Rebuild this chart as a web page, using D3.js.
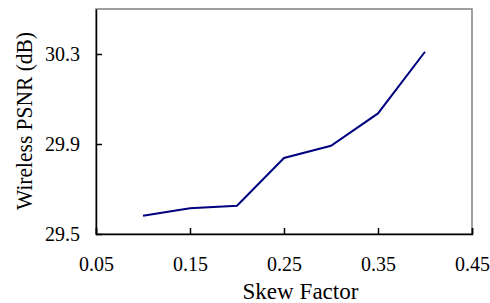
<!DOCTYPE html>
<html>
<head>
<meta charset="utf-8">
<script src="https://cdn.jsdelivr.net/npm/d3@7"></script>
<style>
  body { margin: 0; background: #fff; }
  svg text { font-family: 'Liberation Serif', 'Times New Roman', serif; fill: #000; }
</style>
</head>
<body>
<svg id="chart"></svg>
<script>
// chart data
let skew = [0.1, 0.15, 0.2, 0.25, 0.3, 0.35, 0.4]
let psnr = [29.581, 29.614, 29.626, 29.838, 29.892, 30.036, 30.31]
let xTicks = [0.05, 0.15, 0.25, 0.35, 0.45]
let yTicks = [29.5, 29.9, 30.3]

let width = 490
let height = 303
let margin = {top: 9, right: 18, bottom: 69, left: 96}
let serif = "'Liberation Serif', 'Times New Roman', serif"

let svg = d3.select('#chart')
            .attr('width', width)
            .attr('height', height)

let xScale = d3.scaleLinear()
               .domain([0.05, 0.45])
               .range([margin.left, width - margin.right])
let yScale = d3.scaleLinear()
               .domain([29.5, 30.5])
               .range([height - margin.bottom, margin.top])

// frame: grey top/right, black left/bottom
svg.append('rect')
   .attr('x', margin.left)
   .attr('y', margin.top)
   .attr('width', xScale.range()[1] - margin.left)
   .attr('height', yScale.range()[0] - margin.top)
   .attr('fill', 'none')
   .attr('stroke', '#808080')
   .attr('stroke-width', 1.5)

let xAxis = d3.axisBottom(xScale)
              .tickValues(xTicks)
              .tickFormat(d3.format('.2f'))
              .tickSize(-6)
              .tickPadding(23)
svg.append('g')
   .attr('transform', 'translate(0,' + yScale(29.5) + ')')
   .call(xAxis)
   .attr('font-family', null)
   .attr('font-size', null)
   .call(g => g.selectAll('text').style('font-size', '20px').style('font-family', serif))
   .call(g => g.selectAll('line, path').attr('stroke', '#000').attr('stroke-width', 1.5))

let yAxis = d3.axisLeft(yScale)
              .tickValues(yTicks)
              .tickFormat(d3.format('.1f'))
              .tickSize(-6)
              .tickSizeOuter(0)
              .tickPadding(16)
svg.append('g')
   .attr('transform', 'translate(' + margin.left + ',0)')
   .call(yAxis)
   .attr('font-family', null)
   .attr('font-size', null)
   .call(g => g.selectAll('text').style('font-size', '20px').style('font-family', serif))
   .call(g => g.selectAll('line, path').attr('stroke', '#000').attr('stroke-width', 1.5))

// the series
let line = d3.line()
             .x((d, i) => xScale(skew[i]))
             .y(d => yScale(d))
svg.append('path')
   .datum(psnr)
   .attr('d', line)
   .attr('fill', 'none')
   .attr('stroke', '#000080')
   .attr('stroke-width', 2)

// axis titles
svg.append('text')
   .attr('x', 300.5)
   .attr('y', 299)
   .attr('text-anchor', 'middle')
   .attr('textLength', 116)
   .attr('lengthAdjust', 'spacingAndGlyphs')
   .style('font-size', '23px')
   .text('Skew Factor')

svg.append('text')
   .attr('transform', 'translate(31.5,121) rotate(-90)')
   .attr('text-anchor', 'middle')
   .attr('textLength', 178)
   .attr('lengthAdjust', 'spacingAndGlyphs')
   .style('font-size', '24px')
   .text('Wireless PSNR (dB)')
</script>
</body>
</html>
